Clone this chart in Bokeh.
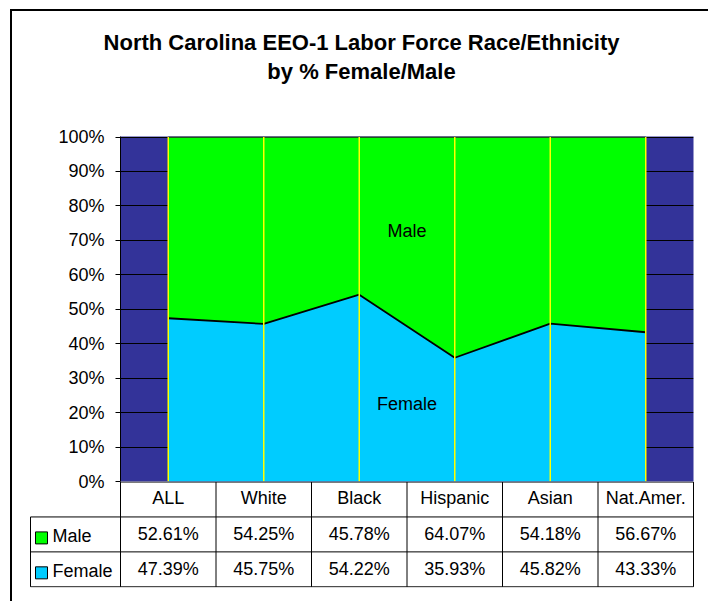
from bokeh.plotting import figure
from bokeh.models import ColumnDataSource, Range1d, FixedTicker
from bokeh.layouts import column
from bokeh.core.properties import value
from bokeh.embed import file_html
from bokeh.resources import INLINE

# ---------------- data ----------------
categories = ["ALL", "White", "Black", "Hispanic", "Asian", "Nat.Amer."]
male = [52.61, 54.25, 45.78, 64.07, 54.18, 56.67]
female = [47.39, 45.75, 54.22, 35.93, 45.82, 43.33]
series_names = ["Male", "Female"]
y_ticks = [0, 10, 20, 30, 40, 50, 60, 70, 80, 90, 100]
y_tick_labels = ["0%", "10%", "20%", "30%", "40%", "50%", "60%", "70%", "80%", "90%", "100%"]
title_lines = ["North Carolina EEO-1 Labor Force Race/Ethnicity", "by % Female/Male"]

# ---------------- style ----------------
FONT = "Liberation Sans"
MALE_C = "#00FF00"
FEMALE_C = "#00CCFF"
BG = "#333399"
W = 696
CAT_PX = 95.5          # pixel width of one category
LEG_PX = 90.0          # pixel width of the legend column of the table
OVER = 12              # overlap between chart and table figures

n = len(categories)
xs = list(range(n))
total = [m + f for m, f in zip(male, female)]
src = ColumnDataSource(dict(x=xs, female=female, male=male, total=total,
                            zero=[0] * n, cat=categories))

# ---------------- title ----------------
pt = figure(width=W, height=100, x_range=Range1d(12, 12 + W), y_range=Range1d(111, 11),
            output_backend="svg", toolbar_location=None, x_axis_type=None,
            y_axis_type=None, min_border=0)
pt.outline_line_color = None
pt.grid.visible = False
pt.text(x=[361, 361], y=[42, 71], text=title_lines, text_font=value(FONT),
        text_font_size="22px", text_font_style="bold", text_align="center",
        text_baseline="middle", text_color="black")

# ---------------- main chart ----------------
pa = figure(width=W, height=345 + 25 + OVER, x_range=Range1d(-0.5, n - 0.5),
            y_range=Range1d(0, 100.15),
            output_backend="svg", toolbar_location=None, x_axis_type=None,
            min_border_left=108, min_border_right=15, min_border_top=25,
            min_border_bottom=OVER)
pa.background_fill_color = BG
pa.border_fill_color = None
pa.outline_line_color = None
pa.xgrid.visible = False
pa.ygrid.ticker = FixedTicker(ticks=y_ticks)
pa.ygrid.grid_line_color = "black"
pa.ygrid.grid_line_width = 1
ax = pa.yaxis[0]
ax.ticker = FixedTicker(ticks=y_ticks)
ax.major_label_overrides = {t: lab for t, lab in zip(y_ticks, y_tick_labels)}
ax.major_label_text_font = FONT
ax.major_label_text_font_size = "18px"
ax.major_label_text_color = "black"
ax.major_label_standoff = 11
ax.major_tick_out = 5
ax.major_tick_in = 0
ax.minor_tick_out = 0
ax.minor_tick_in = 0
ax.axis_line_color = "black"
ax.major_tick_line_color = "black"

pa.varea_stack(stackers=["female", "male"], x="x", color=[FEMALE_C, MALE_C], source=src)
pa.line("x", "female", source=src, line_color="black", line_width=1.8)
pa.line("x", "total", source=src, line_color="#222222", line_width=1.5)
pa.segment(x0="x", y0="zero", x1="x", y1="total", source=src, line_color="#FFFF00",
           line_width=1.5)
pa.text(x=[2.5, 2.5], y=[72.75, 22.6], text=series_names, text_font=value(FONT),
        text_font_size="18px", text_align="center", text_baseline="middle",
        text_color="black")

# ---------------- data table ----------------
x_leg = -0.5 - LEG_PX / CAT_PX
pb = figure(width=W, height=120,
            x_range=Range1d(-0.5 - (LEG_PX + 1) / CAT_PX, n - 0.5 + 1 / CAT_PX),
            y_range=Range1d(-0.02, 3.015),
            output_backend="svg", toolbar_location=None, x_axis_type=None, y_axis_type=None,
            min_border_left=17, min_border_right=14, min_border_top=0, min_border_bottom=14)
pb.outline_line_color = None
pb.border_fill_color = None
pb.background_fill_color = None
pb.grid.visible = False

bounds = [i - 0.5 for i in range(n + 1)]
# horizontal rules
pb.segment(x0=[-0.5, x_leg, x_leg, x_leg], y0=[3, 2, 1, 0],
           x1=[n - 0.5] * 4, y1=[3, 2, 1, 0], line_color="black", line_width=1)
# vertical rules
pb.segment(x0=bounds + [x_leg], y0=[0] * (n + 1) + [0],
           x1=bounds + [x_leg], y1=[3] * (n + 1) + [2], line_color="black", line_width=1)

male_txt = [f"{v:.2f}%" for v in male]
female_txt = [f"{v:.2f}%" for v in female]
tkw = dict(text_font=value(FONT), text_font_size="18px", text_align="center",
           text_baseline="middle", text_color="black")
pb.text(x=xs, y=[2.55] * n, text=categories, **tkw)
pb.text(x=xs, y=[1.5] * n, text=male_txt, **tkw)
pb.text(x=xs, y=[0.5] * n, text=female_txt, **tkw)

pb.scatter(x=[x_leg + 11 / CAT_PX] * 2, y=[1.4, 0.4], marker="square", size=12,
           fill_color=[MALE_C, FEMALE_C], line_color="black", line_width=1)
pb.text(x=[x_leg + 22 / CAT_PX] * 2, y=[1.45, 0.45], text=series_names,
        text_font=value(FONT), text_font_size="18px", text_align="left",
        text_baseline="middle", text_color="black")

frame_css = {"border-left": "2px solid black", "margin-left": "10px"}
root_t = column(pt, styles=dict(frame_css, **{"border-top": "2px solid black",
                                               "margin-top": "9px"}))
root_a = column(pa, styles=dict(frame_css))
root_b = column(pb, styles=dict(frame_css, **{"margin-top": f"-{OVER}px"}))

open("out.html", "w").write(file_html([root_t, root_a, root_b], INLINE))
